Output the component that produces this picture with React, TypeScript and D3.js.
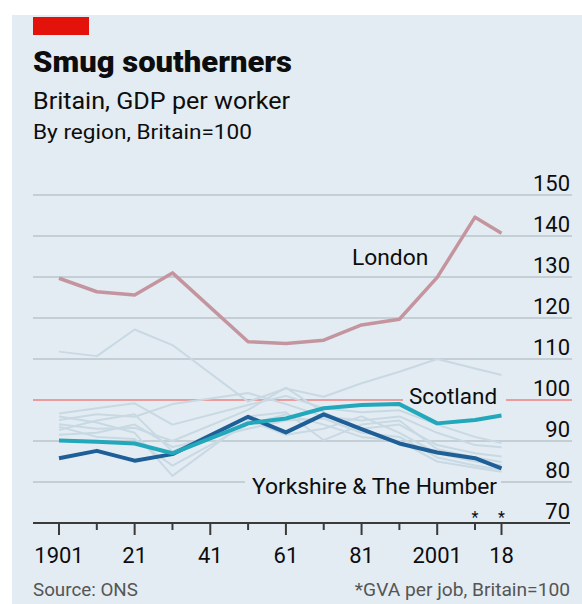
import * as d3 from 'd3';

const WIDTH = 582, HEIGHT = 604;

// survey years (no 1941 figure)
const years = [1901, 1911, 1921, 1931, 1951, 1961, 1971, 1981, 1991, 2001, 2011, 2018];

const london = [129.7, 126.4, 125.6, 131, 114.2, 113.8, 114.6, 118.3, 119.7, 129.9, 144.6, 140.7];
const scotland = [90.1, 89.8, 89.4, 87, 94.3, 95.5, 98, 98.8, 99, 94.3, 95.1, 96.2];
const yorkshire = [85.8, 87.6, 85.2, 86.8, 95.9, 92.1, 96.5, 92.9, 89.4, 87.2, 85.8, 83.3];

// the other regions, drawn in grey
const southEast = [111.8, 110.7, 117.2, 113.4, 99.6, 102.8, 100.8, 104.1, 106.9, 110, 107.7, 106.1];
const east = [96.7, 98, 99.2, 94, 98.8, 101, 98, 97, 97.5, 94, 91, 89.5];
const southWest = [95.1, 96.5, 95.9, 99, 101.7, 99, 96, 95, 96, 92, 89, 88.5];
const westMidlands = [94.1, 93, 93.2, 90, 97.6, 103, 97, 93, 94, 89, 87, 86.2];
const eastMidlands = [92.7, 95, 96.5, 87.4, 96, 97, 90.2, 94, 95, 88, 86, 84.9];
const northEast = [96, 94.5, 92, 81.5, 95, 91.5, 93, 96, 92, 87, 85, 84];
const northWest = [91.5, 92, 94, 88.5, 93, 95, 95.5, 92, 91, 86, 84, 83];
const wales = [93.5, 91, 90.5, 84, 94, 96.5, 94, 91, 90, 85, 83.5, 82.5];

const others = [southEast, east, southWest, westMidlands, eastMidlands, northEast, northWest, wales];

const yTicks = [70, 80, 90, 100, 110, 120, 130, 140, 150];
const xTicks = [1901, 1911, 1921, 1931, 1941, 1951, 1961, 1971, 1981, 1991, 2001, 2011, 2018];
const xTickLabels: Record<number, string> = { 1901: '1901', 1921: '21', 1941: '41', 1961: '61', 1981: '81', 2001: '2001', 2018: '18' };
const starred = [2011, 2018];

const FONT = 'Roboto, "Open Sans", sans-serif';
const BG = '#e3ecf2';

const x = d3.scaleLinear().domain([1901, 2018]).range([59, 501.5]);
const y = d3.scaleLinear().domain([70, 150]).range([523, 195]);

const line = d3
    .line<number>()
    .x((d, i) => x(years[i]))
    .y(d => y(d));

const GRID_LEFT = 33, GRID_RIGHT = 572;

const App = () => {
    return (
        <svg width={WIDTH} height={HEIGHT} style={{ position: 'absolute', left: 0, top: 0 }} fontFamily={FONT}>
            <rect x={0} y={0} width={WIDTH} height={HEIGHT} fill="#fff" />
            <rect x={12} y={15} width={WIDTH - 12} height={HEIGHT - 15} fill={BG} />
            <rect x={33} y={17} width={56} height={18} fill="#e3120b" />

            <text x={33} y={72} fontSize={29} fontWeight={900} fill="#0d0d0d" textLength={259} lengthAdjust="spacingAndGlyphs">Smug southerners</text>
            <text x={33} y={109} fontSize={24.5} fill="#0d0d0d" textLength={257} lengthAdjust="spacingAndGlyphs">Britain, GDP per worker</text>
            <text x={33} y={139} fontSize={21} fill="#0d0d0d" textLength={219} lengthAdjust="spacingAndGlyphs">By region, Britain=100</text>

            {/* gridlines */}
            {yTicks.filter(t => t !== 70 && t !== 100).map(t => (
                <line key={t} x1={GRID_LEFT} x2={GRID_RIGHT} y1={y(t)} y2={y(t)} stroke="#b9c4cb" strokeWidth={1.6} />
            ))}
            <line x1={GRID_LEFT} x2={GRID_RIGHT} y1={y(100)} y2={y(100)} stroke="#ec9c9c" strokeWidth={2} />

            {yTicks.map(t => (
                <text key={t} x={570} y={y(t) - 4} fontSize={22} textAnchor="end" fill="#0d0d0d">{t}</text>
            ))}

            {/* label knock-outs */}
            <rect x={403} y={380} width={103} height={30} fill={BG} />
            <rect x={245} y={470} width={256} height={30} fill={BG} />

            {others.map((s, i) => (
                <path key={i} d={line(s) || ''} fill="none" stroke="#c8d9e3" strokeWidth={2} strokeLinejoin="round" />
            ))}
            <path d={line(london) || ''} fill="none" stroke="#c4959f" strokeWidth={3.5} strokeLinejoin="round" />
            <path d={line(yorkshire) || ''} fill="none" stroke="#1f5f97" strokeWidth={4} strokeLinejoin="round" />
            <path d={line(scotland) || ''} fill="none" stroke="#22a7bb" strokeWidth={4} strokeLinejoin="round" />

            <text x={352} y={265} fontSize={22.8} fill="#0d0d0d">London</text>
            <text x={409} y={404} fontSize={22.5} fill="#0d0d0d">Scotland</text>
            <text x={252} y={494} fontSize={22.8} fill="#0d0d0d">Yorkshire &amp; The Humber</text>

            {/* x axis */}
            <line x1={GRID_LEFT} x2={570} y1={y(70)} y2={y(70)} stroke="#3a3a3a" strokeWidth={2} />
            {xTicks.map(t => (
                <line key={t} x1={x(t)} x2={x(t)} y1={y(70)} y2={y(70) + (xTickLabels[t] ? 12 : 7)} stroke="#3a3a3a" strokeWidth={2} />
            ))}
            {xTicks.filter(t => xTickLabels[t]).map(t => (
                <text key={t} x={x(t)} y={563} fontSize={22} textAnchor="middle" fill="#0d0d0d">{xTickLabels[t]}</text>
            ))}
            {starred.map(t => (
                <text key={t} x={x(t)} y={523} fontSize={16} textAnchor="middle" fill="#0d0d0d">*</text>
            ))}

            <text x={33} y={596} fontSize={18.8} fill="#555">Source: ONS</text>
            <text x={570} y={596} fontSize={19.2} textAnchor="end" fill="#555">*GVA per job, Britain=100</text>
        </svg>
    );
};

export default App;
